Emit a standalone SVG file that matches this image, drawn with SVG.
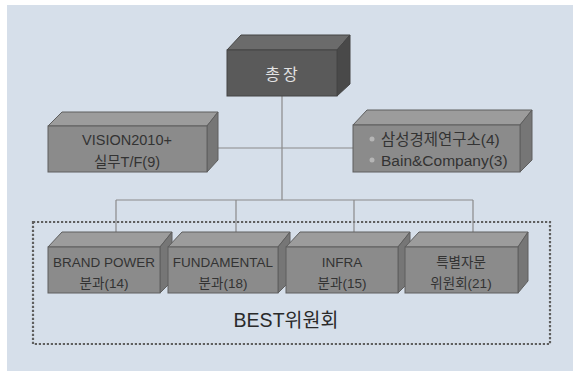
<svg xmlns="http://www.w3.org/2000/svg" width="578" height="375" viewBox="0 0 578 375">
<style>
.f{fill:#8b8b8b;stroke:#5e5e5e;stroke-width:1}
.t{fill:#9c9c9c;stroke:#5e5e5e;stroke-width:1}
.r{fill:#767676;stroke:#5e5e5e;stroke-width:1}
.fd{fill:#5a5a5a;stroke:#444;stroke-width:1}
.td{fill:#6b6b6b;stroke:#444;stroke-width:1}
.rd{fill:#494949;stroke:#444;stroke-width:1}
.lbl{font-family:"Liberation Sans","Noto Sans CJK KR",sans-serif;font-size:14.5px;fill:#333;text-anchor:middle}
.sm{font-size:13.5px}
.ln{stroke:#8a8a8a;stroke-width:1.2;fill:none}
</style>
<rect x="7" y="5" width="566" height="366" fill="#d6dfea"/>
<rect x="33" y="222" width="517" height="122" fill="none" stroke="#5f5f5f" stroke-width="2.2" stroke-dasharray="2.2,1.8"/>
<g id="connectors">
<path class="ln" d="M282,96 V200 M218,148 H353 M116,200 H473 M116,200 V232 M236,200 V232 M354,200 V232 M473,200 V232"/>
</g>
<g id="president">
<polygon class="td" points="227,50 241,35 350,35 337,50"/>
<polygon class="rd" points="337,50 350,35 350,84 337,96"/>
<rect class="fd" x="227" y="50" width="110" height="46"/>
<text x="283" y="80" class="lbl" style="fill:#e2e2e2;font-size:16px;letter-spacing:3px">총장</text>
</g>
<g id="vision">
<polygon class="t" points="48,126 62,112 218,112 207,126"/>
<polygon class="r" points="207,126 218,112 218,160 207,172"/>
<rect class="f" x="48" y="126" width="159" height="46"/>
<text x="127" y="145" class="lbl">VISION2010+</text>
<text x="127" y="167" class="lbl">실무T/F(9)</text>
</g>
<g id="advisors">
<polygon class="t" points="353,125 367,110 532,110 520,125"/>
<polygon class="r" points="520,125 532,110 532,160 520,172"/>
<rect class="f" x="353" y="125" width="167" height="47"/>
<circle cx="372" cy="139" r="2.5" fill="#b5b5b5"/>
<circle cx="372" cy="160" r="2.5" fill="#b5b5b5"/>
<text x="381" y="145" class="lbl" style="text-anchor:start;font-size:15.5px">삼성경제연구소(4)</text>
<text x="381" y="166" class="lbl" style="text-anchor:start;font-size:15.5px">Bain&amp;Company(3)</text>
</g>
<g id="brand">
<polygon class="t" points="48,247 62,232 172,232 160,247"/>
<polygon class="r" points="160,247 172,232 172,281 160,293"/>
<rect class="f" x="48" y="247" width="112" height="46"/>
<text x="104" y="267" class="lbl sm">BRAND POWER</text>
<text x="104" y="288" class="lbl sm">분과(14)</text>
</g>
<g id="fundamental">
<polygon class="t" points="168,247 182,232 290,232 278,247"/>
<polygon class="r" points="278,247 290,232 290,281 278,293"/>
<rect class="f" x="168" y="247" width="110" height="46"/>
<text x="223" y="267" class="lbl sm">FUNDAMENTAL</text>
<text x="223" y="288" class="lbl sm">분과(18)</text>
</g>
<g id="infra">
<polygon class="t" points="286,247 300,232 410,232 398,247"/>
<polygon class="r" points="398,247 410,232 410,281 398,293"/>
<rect class="f" x="286" y="247" width="112" height="46"/>
<text x="342" y="267" class="lbl sm">INFRA</text>
<text x="342" y="288" class="lbl sm">분과(15)</text>
</g>
<g id="special">
<polygon class="t" points="405,247 419,232 528,232 518,247"/>
<polygon class="r" points="518,247 528,232 528,281 518,293"/>
<rect class="f" x="405" y="247" width="113" height="46"/>
<text x="461" y="267" class="lbl sm">특별자문</text>
<text x="461" y="288" class="lbl sm">위원회(21)</text>
</g>
<text x="286" y="327" class="lbl" style="font-size:19.5px;fill:#2a2a2a">BEST위원회</text>
</svg>
